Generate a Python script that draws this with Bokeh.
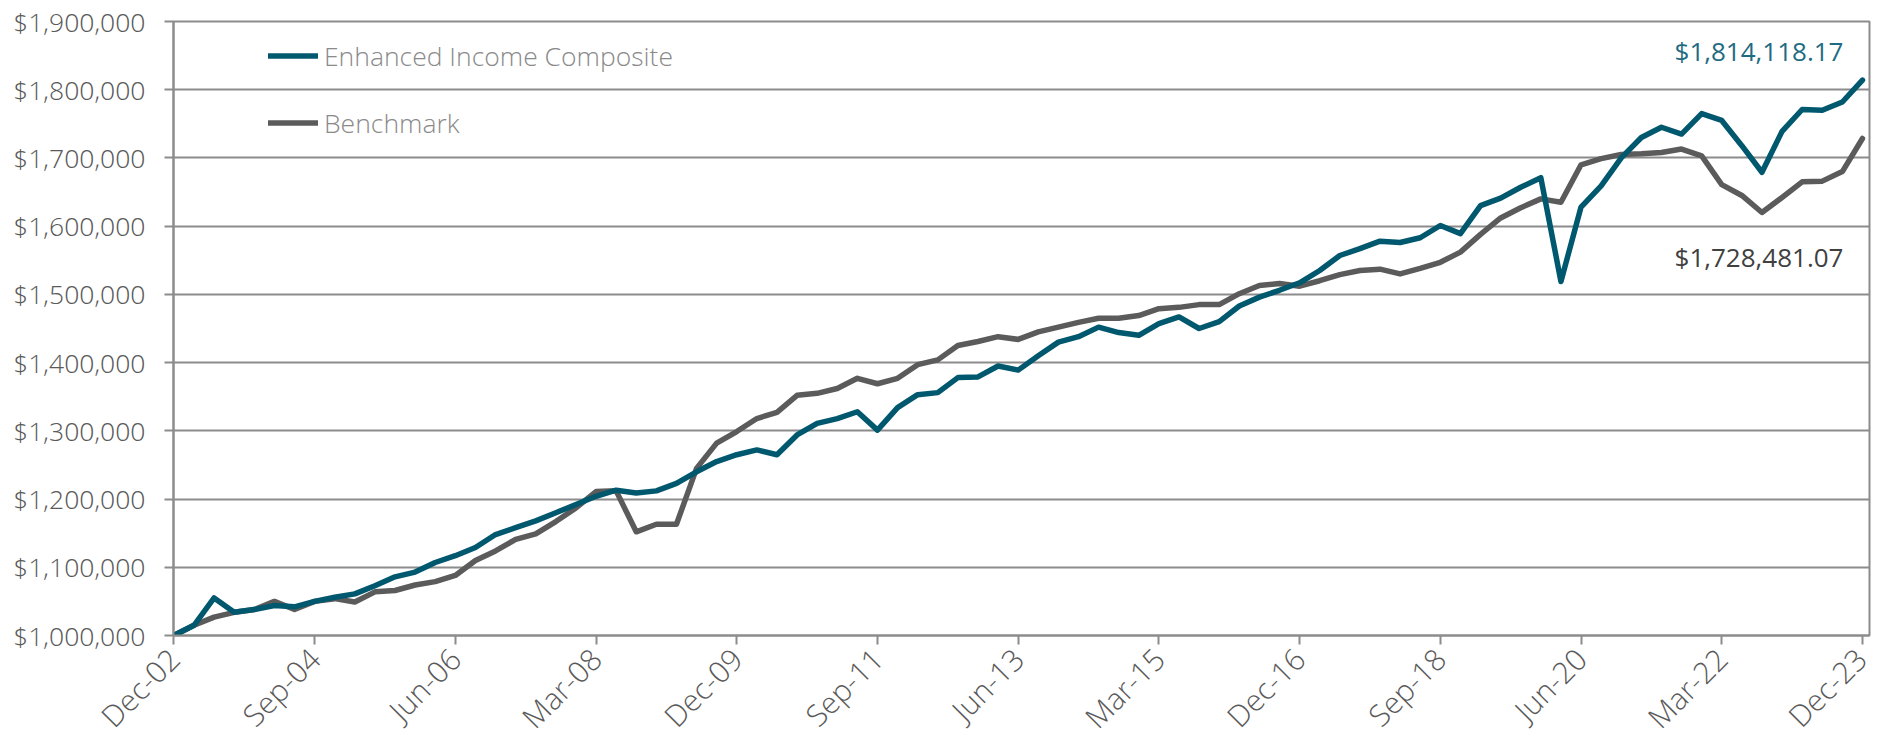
import math
from bokeh.plotting import figure
from bokeh.models import (ColumnDataSource, FixedTicker, NumeralTickFormatter,
                          Range1d, Legend, LegendItem, Label)
from bokeh.embed import file_html
from bokeh.resources import INLINE

# ---------------- data ----------------
quarters = list(range(85))  # quarterly, Dec-02 .. Dec-23
tick_labels = ["Dec-02", "Sep-04", "Jun-06", "Mar-08", "Dec-09", "Sep-11", "Jun-13",
               "Mar-15", "Dec-16", "Sep-18", "Jun-20", "Mar-22", "Dec-23"]
tick_positions = quarters[::7]

composite = [
    1000000, 1015000, 1055000, 1034000, 1038000, 1044000, 1042000, 1050000, 1056000, 1061000,
    1073000, 1086000, 1093000, 1107000, 1117000, 1129000, 1148000, 1158000, 1168000, 1180000,
    1192000, 1204000, 1213000, 1209000, 1212000, 1223000, 1240000, 1255000, 1265000, 1272000,
    1265000, 1294000, 1311000, 1318000, 1328000, 1301000, 1334000, 1353000, 1356000, 1378000,
    1379000, 1395000, 1389000, 1410000, 1430000, 1438000, 1452000, 1444000, 1440000, 1457000,
    1467000, 1450000, 1460000, 1483000, 1496000, 1506000, 1517000, 1535000, 1557000, 1567000,
    1578000, 1576000, 1583000, 1601000, 1589000, 1630000, 1641000, 1657000, 1671000, 1519000,
    1628000, 1659000, 1700000, 1730000, 1745000, 1735000, 1765000, 1755000, 1718000, 1679000,
    1739000, 1771000, 1770000, 1782000, 1814118.17,
]
benchmark = [
    1000000, 1015000, 1027000, 1034000, 1038000, 1050000, 1038000, 1050000, 1054000, 1049000,
    1064000, 1066000, 1074000, 1079000, 1088000, 1110000, 1124000, 1141000, 1149000, 1167000,
    1187000, 1211000, 1212000, 1152000, 1163000, 1163000, 1245000, 1282000, 1299000, 1318000,
    1327000, 1352000, 1355000, 1362000, 1377000, 1369000, 1377000, 1397000, 1404000, 1425000,
    1431000, 1438000, 1434000, 1445000, 1452000, 1459000, 1465000, 1465000, 1469000, 1479000,
    1481000, 1485000, 1485000, 1501000, 1513000, 1516000, 1512000, 1520000, 1529000, 1535000,
    1537000, 1530000, 1538000, 1547000, 1562000, 1588000, 1612000, 1627000, 1640000, 1635000,
    1690000, 1699000, 1705000, 1706000, 1708000, 1713000, 1703000, 1661000, 1645000, 1620000,
    1642000, 1665000, 1666000, 1680000, 1728481.07,
]
series_names = ["Enhanced Income Composite", "Benchmark"]

# ---------------- style ----------------
TEAL = "#00586f"
DARK = "#5b5b5b"
GRID = "#8c8c8c"
TICK_TXT = "#5a5a5a"
LEGEND_TXT = "#8a8a8a"
FONT = "Open Sans"
LIGHT_FONT = "Open Sans Light, Open Sans"

src = ColumnDataSource(dict(q=quarters, comp=composite, bench=benchmark))

p = figure(frame_width=1696, frame_height=614,
           min_border_left=173, min_border_top=21, min_border_right=6, min_border_bottom=60,
           x_range=Range1d(-0.02, 84.35), y_range=Range1d(1000000, 1900000),
           output_backend="svg", toolbar_location=None, tools="")

p.background_fill_color = "white"
p.border_fill_color = "white"
p.outline_line_color = GRID
p.outline_line_width = 2

# grid
p.xgrid.visible = False
p.ygrid.grid_line_color = GRID
p.ygrid.grid_line_width = 2
p.ygrid.ticker = FixedTicker(ticks=list(range(1000000, 1900001, 100000)))

# y axis
p.yaxis.ticker = FixedTicker(ticks=list(range(1000000, 1900001, 100000)))
p.yaxis.formatter = NumeralTickFormatter(format="$0,0")
p.yaxis.axis_line_color = GRID
p.yaxis.axis_line_width = 2
p.yaxis.major_tick_line_color = GRID
p.yaxis.major_tick_line_width = 2
p.yaxis.major_tick_out = 9
p.yaxis.major_tick_in = 0
p.yaxis.minor_tick_line_color = None
p.yaxis.major_label_standoff = 19
p.yaxis.major_label_text_font = LIGHT_FONT
p.yaxis.major_label_text_font_size = "26.5px"
p.yaxis.major_label_text_color = TICK_TXT

# x axis
p.xaxis.ticker = FixedTicker(ticks=tick_positions)
p.xaxis.major_label_overrides = {t: lab for t, lab in zip(tick_positions, tick_labels)}
p.xaxis.major_label_orientation = math.pi / 4
p.xaxis.axis_line_color = GRID
p.xaxis.axis_line_width = 2
p.xaxis.major_tick_line_color = GRID
p.xaxis.major_tick_line_width = 2
p.xaxis.major_tick_out = 9
p.xaxis.major_tick_in = 0
p.xaxis.minor_tick_line_color = None
p.xaxis.major_label_standoff = 9
p.xaxis.major_label_text_font = LIGHT_FONT
p.xaxis.major_label_text_font_size = "30px"
p.xaxis.major_label_text_color = TICK_TXT

# lines
r_bench = p.line("q", "bench", source=src, line_color=DARK, line_width=5.5,
                 line_join="round", line_cap="round")
r_comp = p.line("q", "comp", source=src, line_color=TEAL, line_width=5.5,
                line_join="round", line_cap="round")

legend = Legend(items=[LegendItem(label=series_names[0], renderers=[r_comp]),
                       LegendItem(label=series_names[1], renderers=[r_bench])],
                location=(95, 494), orientation="vertical",
                glyph_width=50, glyph_height=37, label_height=37, label_standoff=6,
                spacing=30, padding=0, margin=0,
                label_text_font=LIGHT_FONT, label_text_font_size="26.5px",
                label_text_color=LEGEND_TXT,
                background_fill_alpha=0, border_line_color=None)
p.add_layout(legend)

p.add_layout(Label(x=quarters[-1], y=composite[-1], x_offset=-19, y_offset=29,
                   text=f"${composite[-1]:,.2f}", text_align="right", text_baseline="middle",
                   text_font=FONT, text_font_size="26px", text_color="#1f6b82"))
p.add_layout(Label(x=quarters[-1], y=benchmark[-1], x_offset=-19, y_offset=-118,
                   text=f"${benchmark[-1]:,.2f}", text_align="right", text_baseline="middle",
                   text_font=FONT, text_font_size="26px", text_color="#404040"))

open("out.html", "w").write(file_html(p, INLINE))
